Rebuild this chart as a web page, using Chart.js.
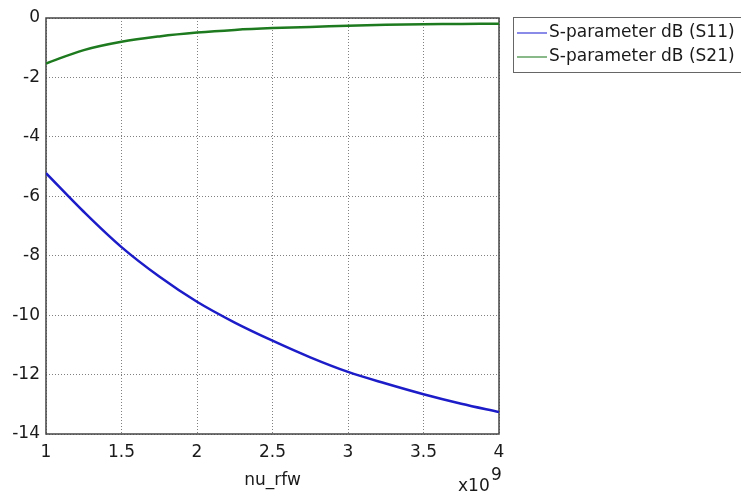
<!DOCTYPE html>
<html>
<head>
<meta charset="utf-8">
<script src="https://cdn.jsdelivr.net/npm/chart.js@4.4.0/dist/chart.umd.min.js"></script>
<style>
  html, body { margin: 0; padding: 0; background: #fff; }
  #wrap { width: 741px; height: 494px; position: relative; }
</style>
</head>
<body>
<div id="wrap"><canvas id="sparam"></canvas></div>
<script>
// frequency in units of 1e9 (axis shows x10^9)
var freq = [1, 1.25, 1.5, 1.75, 2, 2.25, 2.5, 2.75, 3, 3.25, 3.5, 3.75, 4];
var s11 = [-5.22, -6.52, -7.71, -8.7, -9.55, -10.25, -10.86, -11.42, -11.91, -12.3, -12.66, -12.98, -13.26];
var s21 = [-1.53, -1.08, -0.8, -0.62, -0.49, -0.4, -0.34, -0.3, -0.26, -0.23, -0.21, -0.2, -0.19];
var seriesNames = ["S-parameter dB (S11)", "S-parameter dB (S21)"];
var seriesColors = ["#1c1cc8", "#1e7a1e"];
var legendColors = ["#3c3cd8", "#3a8a3a"];
var xTicks = [1, 1.5, 2, 2.5, 3, 3.5, 4];
var yTicks = [-14, -12, -10, -8, -6, -4, -2, 0];

var FONT = "'DejaVu Sans', Verdana, sans-serif";

function toPoints(ys) {
    return freq.map(function(f, i) { return {x: f, y: ys[i]}; });
}

var framePlugin = {
    id: 'frame',
    beforeDatasetsDraw: function(chart) {
        var a = chart.chartArea, ctx = chart.ctx;
        ctx.save();
        ctx.strokeStyle = '#444';
        ctx.lineWidth = 1.5;
        ctx.strokeRect(a.left, a.top, a.right - a.left, a.bottom - a.top);
        ctx.restore();
    },
    afterDraw: function(chart) {
        var a = chart.chartArea, ctx = chart.ctx;
        ctx.save();
        ctx.fillStyle = '#1a1a1a';
        // x axis title
        ctx.font = '17px ' + FONT;
        ctx.textAlign = 'center';
        ctx.textBaseline = 'middle';
        ctx.fillText('nu_rfw', (a.left + a.right) / 2, 481);
        // exponent
        ctx.textAlign = 'left';
        ctx.textBaseline = 'alphabetic';
        ctx.fillText('x10', 458, 491);
        ctx.fillText('9', 491, 480);
        // legend box
        ctx.strokeStyle = '#666';
        ctx.lineWidth = 1;
        ctx.strokeRect(513.5, 17.5, 228, 55);
        var rows = [33, 57];
        for (var i = 0; i < seriesNames.length; i++) {
            ctx.strokeStyle = legendColors[i];
            ctx.lineWidth = 1.2;
            ctx.beginPath();
            ctx.moveTo(517, rows[i]);
            ctx.lineTo(547, rows[i]);
            ctx.stroke();
            ctx.fillStyle = '#1a1a1a';
            ctx.textBaseline = 'middle';
            ctx.fillText(seriesNames[i], 549, rows[i]);
        }
        ctx.restore();
    }
};

var ctx = document.getElementById('sparam').getContext('2d');
var sChart = new Chart(ctx, {
    type: 'line',
    data: {
        datasets: [
            {label: seriesNames[0], data: toPoints(s11), borderColor: seriesColors[0], borderWidth: 2.5,
             pointRadius: 0, tension: 0.35, fill: false},
            {label: seriesNames[1], data: toPoints(s21), borderColor: seriesColors[1], borderWidth: 2.5,
             pointRadius: 0, tension: 0.35, fill: false}
        ]
    },
    options: {
        responsive: true,
        maintainAspectRatio: false,
        animation: false,
        layout: { padding: { top: 18, right: 242, left: 0, bottom: 0 } },
        plugins: { legend: { display: false }, tooltip: { enabled: false } },
        scales: {
            x: {
                type: 'linear', min: 1, max: 4,
                afterBuildTicks: function(scale) { scale.ticks = xTicks.map(function(v) { return {value: v}; }); },
                afterFit: function(scale) { scale.height = 60; },
                ticks: { font: { size: 17, family: FONT }, color: '#1a1a1a', padding: 8, maxRotation: 0,
                         callback: function(v) { return String(v); } },
                grid: { color: '#808080', lineWidth: 1, drawTicks: false },
                border: { display: false, dash: [1, 2] }
            },
            y: {
                min: -14, max: 0,
                afterBuildTicks: function(scale) { scale.ticks = yTicks.map(function(v) { return {value: v}; }); },
                afterFit: function(scale) { scale.width = 46; },
                ticks: { font: { size: 17, family: FONT }, color: '#1a1a1a', padding: 6,
                         callback: function(v) { return String(v); } },
                grid: { color: '#808080', lineWidth: 1, drawTicks: false },
                border: { display: false, dash: [1, 2] }
            }
        }
    },
    plugins: [framePlugin]
});
</script>
</body>
</html>
